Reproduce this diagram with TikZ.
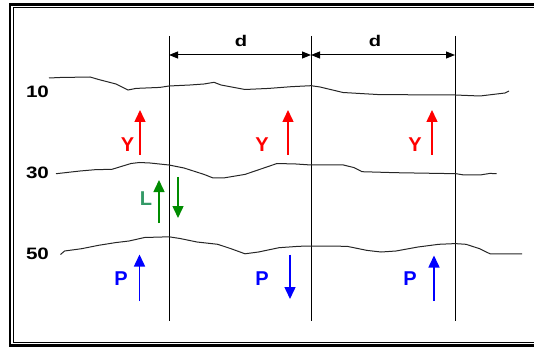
\documentclass[tikz,border=0pt]{standalone}
\usepackage{fontspec}
\setmainfont{Liberation Sans}
\usetikzlibrary{arrows.meta}

\definecolor{forcered}{RGB}{255,0,0}
\definecolor{forcegreen}{RGB}{0,140,0}
\definecolor{labelgreen}{RGB}{51,153,102}
\definecolor{forceblue}{RGB}{0,0,255}

\newcommand{\wide}[2]{\scalebox{#1}[1]{#2}}

\begin{document}
\begin{tikzpicture}[x=1pt,y=-1pt,>={Triangle[length=12pt,width=11pt]},
    depth/.style={font=\bfseries\fontsize{16.5}{16.5}\selectfont},
    letter/.style={font=\bfseries\fontsize{20}{20}\selectfont},
    dimtext/.style={font=\bfseries\fontsize{15.5}{15.5}\selectfont},
    force/.style={->,line width=1.5pt},
    dimline/.style={{Triangle[length=9pt,width=7pt]}-{Triangle[length=9pt,width=7pt]},line width=1pt},
    wave/.style={line width=1pt,black!85}]
  \useasboundingbox (0,0) rectangle (534,347);
  % double frame, open to the right
  \draw[line width=2.5pt] (534,4.7) -- (10,4.7) -- (10,345.7) -- (534,345.7);
  \draw[line width=1pt] (534,8) -- (13,8) -- (13,342.5) -- (534,342.5);
  % section lines
  \foreach \n/\x in {1/169,2/311,3/455} {
    \coordinate (t\n) at (\x,36);
    \coordinate (b\n) at (\x,321);
    \coordinate (m\n) at (\x,55);
    \draw[line width=1pt] (t\n) -- (b\n);
  }
  \draw[dimline] (m1) -- (m2);
  \draw[dimline] (m2) -- (m3);
  \node[dimtext] (d1) at (241,41) {\wide{1.3}{d}};
  \node[dimtext] (d2) at (375,41) {\wide{1.3}{d}};
  % depth levels
  \node[depth] (z10) at (37.5,92) {\wide{1.25}{10}};
  \node[depth] (z30) at (37.5,172.5) {\wide{1.25}{30}};
  \node[depth] (z50) at (37.5,253.5) {\wide{1.25}{50}};
  \draw[wave] plot coordinates {(49,78) (60,77.5) (90,77) (99,79.6) (116,84) (128,90)
    (136,88.4) (160,87.4) (169,86) (190,85) (204,84) (214,82.3) (221,85) (245,89.5)
    (269,88.4) (291,86.7) (311,85.7) (320,87) (343,92.5) (379,94.6) (455,95) (480,96)
    (505,93) (509,91)};
  \draw[wave] plot coordinates {(56,173.7) (65,172.7) (80,171) (95,169.7) (112,169.3)
    (131,163.5) (139.5,162.5) (150,163) (169,165) (184,168) (204,174.4) (212.6,177.8)
    (224.5,177.8) (245,174.4) (265,167.6) (277,163.5) (296,164) (311,165) (343.5,165)
    (354,167.6) (362,171.7) (396,172.7) (456,173.7) (464,175) (480,175) (490,173.4)
    (496.6,173.7)};
  \draw[wave] plot coordinates {(60.5,254.5) (64.6,251) (81.6,248.7) (98.6,245.3)
    (115.6,242.6) (129,241) (144.6,237.5) (169,236.8) (180,238.5) (197,242)
    (217.7,244.3) (231,248.7) (245,253.8) (258.5,252) (279,247.7) (299,246.3)
    (311,246) (347,246.3) (367,250.4) (381,252) (396,251) (418,247) (438.8,244.3)
    (455,243.6) (466,244.3) (479.6,248.7) (490,253.8) (522,253.8)};
  % Y forces
  \foreach \n/\x/\lx in {1/140/127.5,2/288/262,3/432/415} {
    \node[letter,text=forcered] (y\n) at (\lx,145) {Y};
    \coordinate (ya\n) at (\x,155);
    \coordinate (yb\n) at (\x,110);
    \draw[force,forcered] (ya\n) -- (yb\n);
  }
  % L forces
  \node[letter,text=labelgreen] (l1) at (146,199) {L};
  \coordinate (la1) at (159,223);
  \coordinate (lb1) at (159,180);
  \coordinate (la2) at (178,177);
  \coordinate (lb2) at (178,218);
  \draw[force,forcegreen] (la1) -- (lb1);
  \draw[force,forcegreen] (la2) -- (lb2);
  % P forces
  \foreach \n/\x/\lx/\a/\b in {1/139.5/121/301/254.5,2/290/262/254.5/299,3/434/410/301/255.5} {
    \node[letter,text=forceblue] (p\n) at (\lx,279) {P};
    \coordinate (pa\n) at (\x,\a);
    \coordinate (pb\n) at (\x,\b);
    \draw[force,forceblue] (pa\n) -- (pb\n);
  }
\end{tikzpicture}
\end{document}
